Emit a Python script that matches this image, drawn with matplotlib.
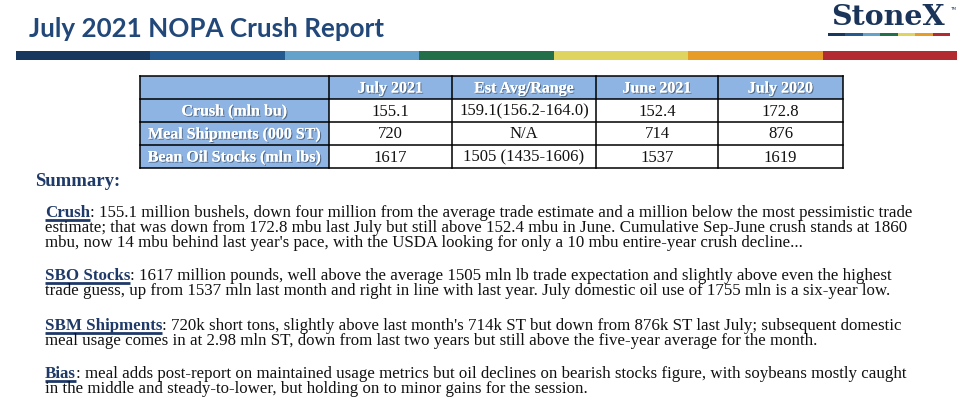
import matplotlib
matplotlib.use('Agg')
import matplotlib.pyplot as plt
from matplotlib.patches import Rectangle
import matplotlib.patheffects as pe

# table data
col_heads = ['July 2021', 'Est Avg/Range', 'June 2021', 'July 2020']
row_heads = ['Crush (mln bu)', 'Meal Shipments (000 ST)', 'Bean Oil Stocks (mln lbs)']
crush_row = ['155.1', '159.1(156.2-164.0)', '152.4', '172.8']
meal_row = ['720', 'N/A', '714', '876']
oil_row = ['1617', '1505 (1435-1606)', '1537', '1619']

# summary paragraphs: heading word + lines
para_heads = ['Crush', 'SBO Stocks', 'SBM Shipments', 'Bias']
para_lines = [
    [": 155.1 million bushels, down four million from the average trade estimate and a million below the most pessimistic trade",
     "estimate; that was down from 172.8 mbu last July but still above 152.4 mbu in June. Cumulative Sep-June crush stands at 1860",
     "mbu, now 14 mbu behind last year's pace, with the USDA looking for only a 10 mbu entire-year crush decline..."],
    [": 1617 million pounds, well above the average 1505 mln lb trade expectation and slightly above even the highest",
     "trade guess, up from 1537 mln last month and right in line with last year. July domestic oil use of 1755 mln is a six-year low."],
    [": 720k short tons, slightly above last month's 714k ST but down from 876k ST last July; subsequent domestic",
     "meal usage comes in at 2.98 mln ST, down from last two years but still above the five-year average for the month."],
    [": meal adds post-report on maintained usage metrics but oil declines on bearish stocks figure, with soybeans mostly caught",
     "in the middle and steady-to-lower, but holding on to minor gains for the session."],
]
para_y = [217, 280, 330, 378]

bar_colors = ['#17375e', '#23598f', '#64a2cc', '#236f4a', '#e0d460', '#e89c28', '#b32b30']

navy = '#1f3a68'
serif = ['Liberation Serif', 'DejaVu Serif']

fig = plt.figure(figsize=(9.65, 4.05), dpi=100)
ax = fig.add_axes([0, 0, 1, 1])
ax.set_xlim(0, 965)
ax.set_ylim(405, 0)
ax.axis('off')

# header
ax.text(29, 37, 'July 2021 NOPA Crush Report', fontsize=18.7, fontweight='bold',
        family=['Lato', 'DejaVu Sans'], color='#22487a', va='baseline')
bw = (957 - 16) / len(bar_colors)
for i, c in enumerate(bar_colors):
    ax.add_patch(Rectangle((16 + i * bw, 51), bw, 9, color=c, lw=0))

# logo
ax.text(888, 25, 'StoneX', fontsize=20.5, fontweight='bold', family=['DejaVu Serif'],
        color='#1b355a', ha='center', va='baseline')
ax.text(950, 10, 'TM', fontsize=3, family=['DejaVu Sans'], color='#1b355a')
lw_ = (950 - 828) / len(bar_colors)
for i, c in enumerate(bar_colors):
    ax.add_patch(Rectangle((828 + i * lw_, 33), lw_, 3, color=c, lw=0))

# table
col_x = [140, 329, 452, 596, 718, 843]
row_y = [76, 99, 122, 145, 168]
blue = '#8db4e2'
rows = [crush_row, meal_row, oil_row]
shadow = [pe.withSimplePatchShadow(offset=(0.8, -0.8), shadow_rgbFace='#3a4a60', alpha=0.7), pe.Normal()]

ax.add_patch(Rectangle((col_x[0], row_y[0]), col_x[-1] - col_x[0], row_y[1] - row_y[0],
                       facecolor=blue, lw=0))
for r in range(3):
    ax.add_patch(Rectangle((col_x[0], row_y[r + 1]), col_x[1] - col_x[0], row_y[r + 2] - row_y[r + 1],
                           facecolor=blue, lw=0))
for j, h in enumerate(col_heads):
    cx = (col_x[j + 1] + col_x[j + 2]) / 2
    ax.text(cx, (row_y[0] + row_y[1]) / 2 + 1, h, fontsize=11.5, fontweight='bold', family=serif,
            color='white', ha='center', va='center', path_effects=shadow)
for r, (lab, vals) in enumerate(zip(row_heads, rows)):
    cy = (row_y[r + 1] + row_y[r + 2]) / 2 + 1
    ax.text((col_x[0] + col_x[1]) / 2, cy, lab, fontsize=11.5, fontweight='bold', family=serif,
            color='white', ha='center', va='center', path_effects=shadow)
    for j, v in enumerate(vals):
        cx = (col_x[j + 1] + col_x[j + 2]) / 2
        ax.text(cx, cy, v, fontsize=12, family=serif, color='#111111', ha='center', va='center')
for x in col_x:
    ax.plot([x, x], [row_y[0], row_y[-1]], color='black', lw=1.1)
for y in row_y:
    ax.plot([col_x[0], col_x[-1]], [y, y], color='black', lw=1.1)

# summary
ax.text(35, 186, 'Summary:', fontsize=13.5, fontweight='bold', family=serif, color=navy, va='baseline')

fig.canvas.draw()
rend = fig.canvas.get_renderer()
inv = ax.transData.inverted()
fs = 12.2
for head, lines, y0 in zip(para_heads, para_lines, para_y):
    t = ax.text(45, y0, head, fontsize=fs, fontweight='bold', family=serif, color=navy, va='baseline')
    bb = t.get_window_extent(rend)
    x_end = inv.transform((bb.x1, bb.y0))[0]
    ax.plot([45, x_end], [y0 + 3, y0 + 3], color=navy, lw=2, solid_capstyle='butt')
    ax.text(x_end, y0, lines[0], fontsize=fs, family=serif, color='#111111', va='baseline')
    for k, ln in enumerate(lines[1:]):
        ax.text(45, y0 + 15 * (k + 1), ln, fontsize=fs, family=serif, color='#111111', va='baseline')

fig.savefig('out.png', dpi=100)
